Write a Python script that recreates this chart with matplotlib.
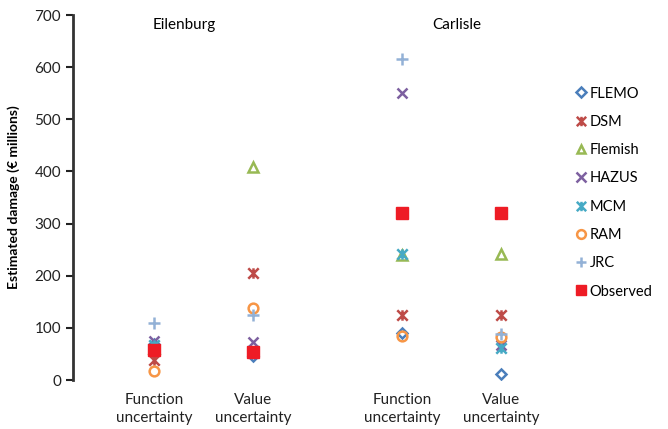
import matplotlib
matplotlib.use("Agg")
import matplotlib.pyplot as plt
from matplotlib.path import Path
import numpy as np

plt.rcParams['font.family'] = ['Lato', 'DejaVu Sans']

categories = ["Function\nuncertainty", "Value\nuncertainty", "Function\nuncertainty", "Value\nuncertainty"]
cat_pos = [1, 2, 3.5, 4.5]
sites = ["Eilenburg", "Carlisle"]

models = ["FLEMO", "DSM", "Flemish", "HAZUS", "MCM", "RAM", "JRC", "Observed"]
flemo = [70, 46, 90, 12]
dsm = [38, 205, 125, 125]
flemish = [62, 409, 240, 242]
hazus = [74, 73, 550, 67]
mcm = [68, 55, 242, 61]
ram = [17, 138, 84, 82]
jrc = [109, 125, 616, 89]
observed = [57, 54, 320, 320]

star = Path([(-1, -1), (1, 1), (-1, 1), (1, -1), (0, -1), (0, 1)],
            [Path.MOVETO, Path.LINETO, Path.MOVETO, Path.LINETO, Path.MOVETO, Path.LINETO])

styles = {
    "FLEMO": dict(marker="D", color="#4A7EBB", fill=False, ms=5.5),
    "DSM": dict(marker=star, color="#BE4B48", fill=False, ms=7.5),
    "Flemish": dict(marker="^", color="#98B954", fill=False, ms=7),
    "HAZUS": dict(marker="x", color="#7D60A0", fill=False, ms=7.5),
    "MCM": dict(marker=star, color="#46AAC5", fill=False, ms=7.5),
    "RAM": dict(marker="o", color="#F79646", fill=False, ms=7),
    "JRC": dict(marker="+", color="#93B1D6", fill=False, ms=8.5),
    "Observed": dict(marker="s", color="#EE1C25", fill=True, ms=8.5),
}
data = {"FLEMO": flemo, "DSM": dsm, "Flemish": flemish, "HAZUS": hazus,
        "MCM": mcm, "RAM": ram, "JRC": jrc, "Observed": observed}

fig = plt.figure(figsize=(6.68, 4.29), dpi=100)
ax = fig.add_axes([0.109, 0.114, 0.73, 0.851])

for m in models:
    s = styles[m]
    if s["fill"]:
        ax.plot(cat_pos, data[m], linestyle="none", marker=s["marker"], ms=s["ms"],
                color=s["color"], mec=s["color"], label=m, zorder=5)
    else:
        ax.plot(cat_pos, data[m], linestyle="none", marker=s["marker"], ms=s["ms"],
                mfc="none", mec=s["color"], mew=1.8, label=m, zorder=3)

ax.set_ylim(0, 700)
ax.set_xlim(0.18, 5.1)
ax.set_yticks(range(0, 701, 100))
ax.set_xticks(cat_pos)
ax.set_xticklabels(categories, fontsize=11, color="#222222", linespacing=1.4)
ax.tick_params(axis="x", length=0, pad=9)
ax.tick_params(axis="y", direction="out", length=5, width=1.5, labelsize=11, colors="#222222")
for sp in ["top", "right", "bottom"]:
    ax.spines[sp].set_visible(False)
ax.spines["left"].set_linewidth(2)
ax.spines["left"].set_color("#333333")
ax.set_ylabel("Estimated damage (€ millions)", fontsize=10, fontweight="bold", labelpad=10)

ax.text(1.3, 680, sites[0], ha="center", va="center", fontsize=11)
ax.text(4.05, 680, sites[1], ha="center", va="center", fontsize=11)

leg = ax.legend(loc="upper left", bbox_to_anchor=(1.0, 0.84), frameon=False,
                fontsize=10.5, handletextpad=0.1, labelspacing=0.98, handlelength=1.0,
                markerscale=0.9)

fig.savefig("out.png", dpi=100)
